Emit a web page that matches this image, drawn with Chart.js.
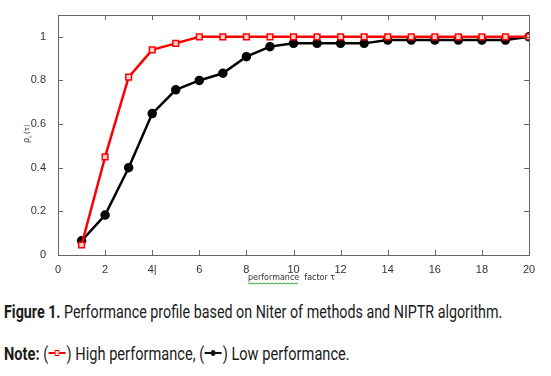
<!DOCTYPE html>
<html>
<head>
<meta charset="utf-8">
<script src="https://cdn.jsdelivr.net/npm/chart.js@4"></script>
<style>
  body { margin: 0; background: #fff; width: 551px; height: 376px; overflow: hidden; }
  #wrap { position: relative; width: 551px; height: 290px; }
  .cap { position: absolute; left: 4px; font-family: "Roboto", sans-serif; font-size: 19px; color: #1a1a1a; white-space: nowrap; transform-origin: 0 0; }
  .cap b { font-weight: 700; }
  .mk { display: inline-block; position: relative; width: 24px; height: 10px; vertical-align: middle; margin-top: -3px; }
  .mk i { position: absolute; left: 1px; right: 1px; top: 4px; height: 2px; }
  .mk em { position: absolute; left: 8px; top: 1px; width: 6px; height: 6px; }
</style>
</head>
<body>
<div id="wrap"><canvas id="myChart" width="551" height="290"></canvas></div>
<div class="cap" id="cap1" style="top:300px"><b>Figure 1.</b> Performance profile based on Niter of methods and NIPTR algorithm.</div>
<div class="cap" id="cap2" style="top:342px"><b>Note:</b> (<span class="mk"><i style="background:#e00"></i><em style="border:1.5px solid #e00;background:#fdd;width:4px;height:4px;left:9px;top:2px"></em></span>) High performance, (<span class="mk"><i style="background:#111"></i><em style="background:#111;border-radius:3px;left:9px;top:2px"></em></span>) Low performance.</div>
<script>
document.addEventListener('DOMContentLoaded', (event) => {

    // valori
    const tau = [1, 2, 3, 4, 5, 6, 7, 8, 9, 10, 11, 12, 13, 14, 15, 16, 17, 18, 19, 20];
    const highPerf = [0.046, 0.45, 0.815, 0.94, 0.97, 1, 1, 1, 1, 1, 1, 1, 1, 1, 1, 1, 1, 1, 1, 1];
    const lowPerf = [0.065, 0.183, 0.40, 0.648, 0.757, 0.80, 0.833, 0.909, 0.955, 0.97, 0.97, 0.97, 0.97, 0.985, 0.985, 0.985, 0.985, 0.985, 0.985, 1];
    const xTicks = [0, 2, 4, 6, 8, 10, 12, 14, 16, 18, 20];
    const yTicks = [0, 0.2, 0.4, 0.6, 0.8, 1];

    // text condensat ca in original
    [['cap1', 498], ['cap2', 346]].forEach(([id, w]) => {
        const el = document.getElementById(id);
        el.style.transform = 'scaleX(' + (w / el.offsetWidth) + ')';
    });

    // cadru + tick-uri spre interior
    const frame = {
        id: 'frame',
        afterDraw(chart) {
            const c = chart.ctx, a = chart.chartArea;
            const sx = chart.scales.x, sy = chart.scales.y;
            c.save();
            c.strokeStyle = '#666';
            c.lineWidth = 1;
            c.strokeRect(a.left + 0.5, a.top + 0.5, a.right - a.left, a.bottom - a.top);
            c.beginPath();
            xTicks.forEach(v => {
                const px = Math.round(sx.getPixelForValue(v)) + 0.5;
                c.moveTo(px, a.bottom); c.lineTo(px, a.bottom - 5);
                c.moveTo(px, a.top); c.lineTo(px, a.top + 5);
            });
            yTicks.forEach(v => {
                const py = Math.round(sy.getPixelForValue(v)) + 0.5;
                c.moveTo(a.left, py); c.lineTo(a.left + 5, py);
                c.moveTo(a.right, py); c.lineTo(a.right - 5, py);
            });
            c.stroke();
            // titlu axa x cu subliniere ondulata
            c.fillStyle = '#333';
            c.font = '8px "DejaVu Sans", sans-serif';
            c.textAlign = 'left';
            c.textBaseline = 'middle';
            const x0 = 248, ty = a.bottom + 23;
            c.fillText('performance  factor \u03c4', x0, ty);
            const w = c.measureText('performance').width;
            c.strokeStyle = '#3a3';
            c.beginPath();
            for (let x = x0; x <= x0 + w; x += 2) {
                c.lineTo(x, ty + 5 + ((x - x0) % 4 < 2 ? 0 : 1));
            }
            c.stroke();
            // titlu axa y
            c.translate(29, 143);
            c.rotate(-Math.PI / 2);
            c.fillStyle = '#333';
            c.font = '8px "DejaVu Sans", sans-serif';
            c.textBaseline = 'alphabetic';
            c.fillText('\u03c1', 0, 0);
            c.fillStyle = '#3a3';
            c.font = '5px "DejaVu Sans", sans-serif';
            c.fillText('s', 5, 3);
            c.fillStyle = '#333';
            c.font = '7px "DejaVu Sans", sans-serif';
            c.fillText('(\u03c4)', 9, 0);
            c.restore();
        }
    };

    const data = {
        labels: tau,
        datasets: [{
            label: 'High performance',
            data: tau.map((t, i) => ({ x: t, y: highPerf[i] })),
            borderColor: '#ff0000',
            backgroundColor: '#ffd0d0',
            borderWidth: 2.5,
            pointStyle: 'rect',
            pointRadius: 4,
            pointBorderWidth: 1.5,
            order: 1
        }, {
            label: 'Low performance',
            data: tau.map((t, i) => ({ x: t, y: lowPerf[i] })),
            borderColor: '#000000',
            backgroundColor: '#000000',
            borderWidth: 2.5,
            pointStyle: 'circle',
            pointRadius: 3.5,
            order: 2
        }]
    };

    const config = {
        type: 'line',
        data: data,
        options: {
            responsive: false,
            animation: false,
            layout: { padding: { top: 15, right: 22, left: 0, bottom: 0 } },
            plugins: {
                legend: { display: false },
                tooltip: { enabled: false }
            },
            scales: {
                x: {
                    type: 'linear',
                    min: 0, max: 20,
                    afterBuildTicks: (s) => { s.ticks = xTicks.map(v => ({ value: v })); },
                    grid: { display: false },
                    border: { display: false },
                    afterFit: (s) => { s.height = 35; },
                    ticks: {
                        color: '#333',
                        font: { family: 'Liberation Sans', size: 11 },
                        padding: 0,
                        maxRotation: 0,
                        callback: (v) => v === 4 ? '4|' : String(v)
                    }
                },
                y: {
                    min: 0, max: 1.1,
                    afterBuildTicks: (s) => { s.ticks = yTicks.map(v => ({ value: v })); },
                    grid: { display: false },
                    border: { display: false },
                    afterFit: (s) => { s.width = 58; },
                    ticks: {
                        color: '#333',
                        font: { family: 'Liberation Sans', size: 11 },
                        padding: 4,
                        callback: (v) => String(v)
                    }
                }
            }
        },
        plugins: [frame]
    };

    const ctx = document.getElementById('myChart').getContext('2d');
    const myChart = new Chart(ctx, config);
});
</script>
</body>
</html>
